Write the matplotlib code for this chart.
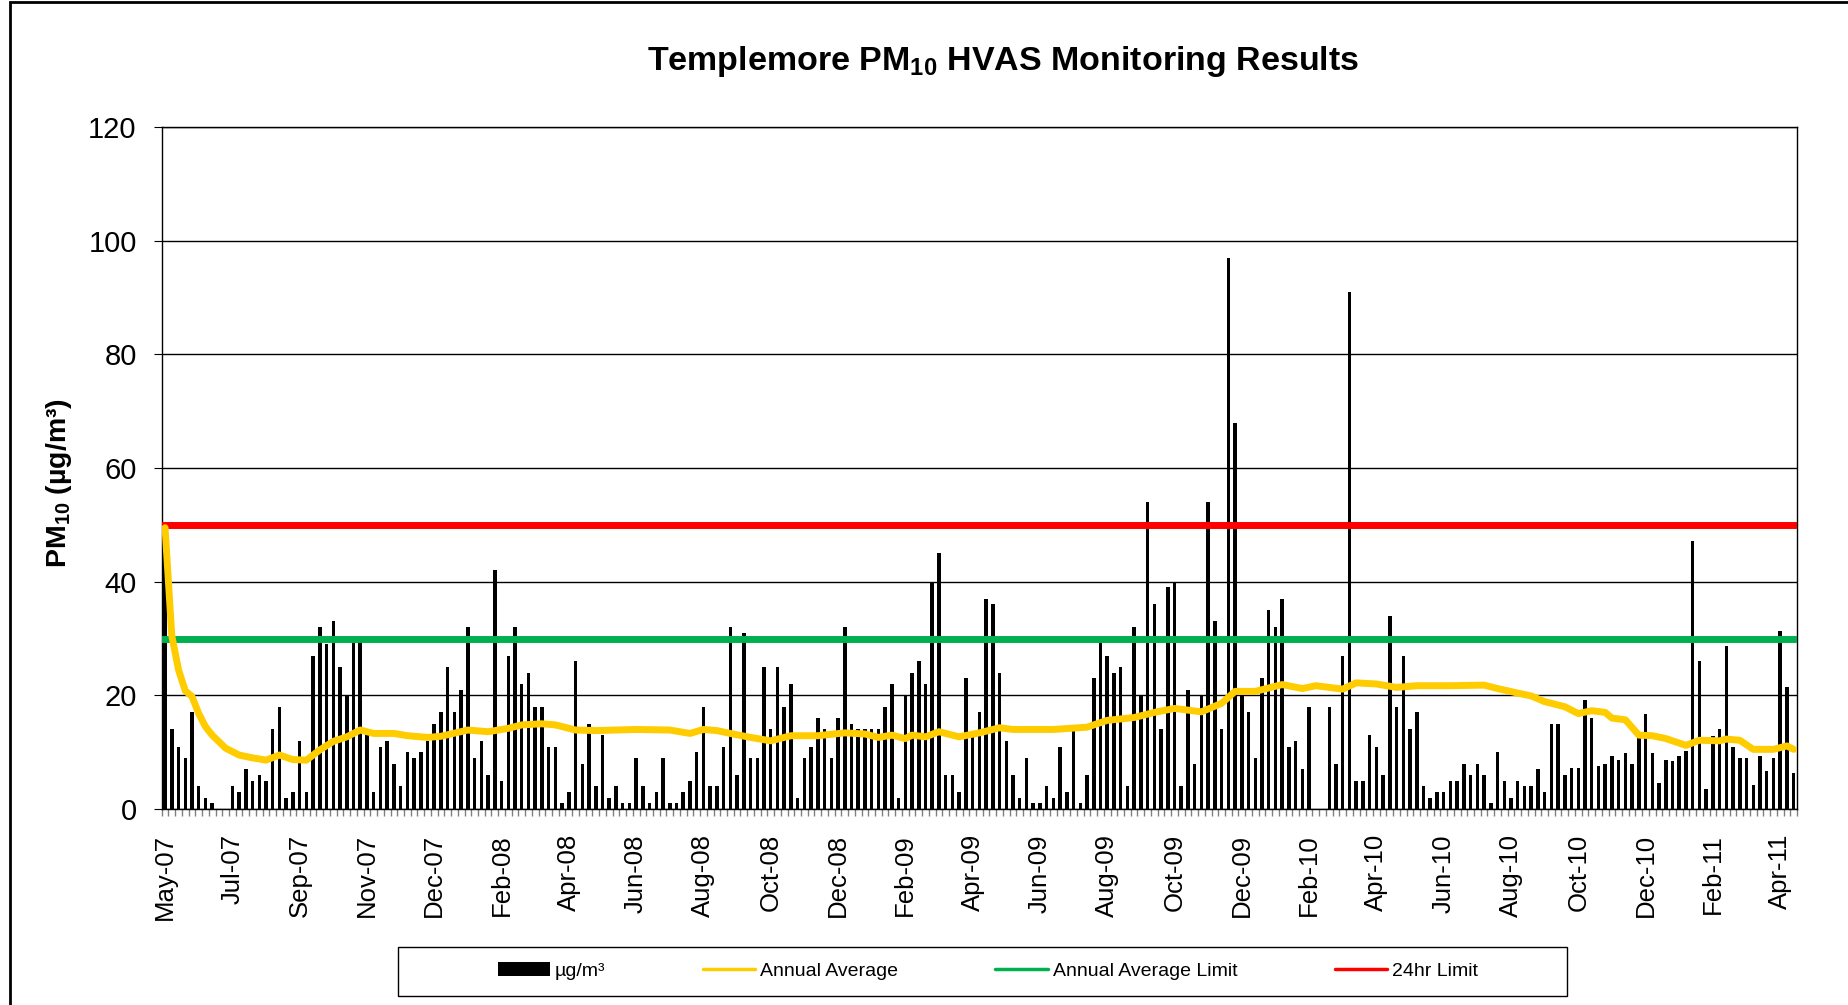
import matplotlib
matplotlib.use('Agg')
import matplotlib.pyplot as plt
from matplotlib.patches import Rectangle
import numpy as np

plt.rcParams['font.family'] = ['Liberation Sans', 'DejaVu Sans']
plt.rcParams['mathtext.fontset'] = 'custom'
plt.rcParams['mathtext.rm'] = 'Liberation Sans'
plt.rcParams['mathtext.bf'] = 'Liberation Sans:bold'
plt.rcParams['mathtext.it'] = 'Liberation Sans:italic'

# PM10 readings, one sample every 6 days, May-07 .. Apr-11
pm10 = [
    49, 14, 11, 9, 17, 4, 2, 1, 0, 0,
    4, 3, 7, 5, 6, 5, 14, 18, 2, 3,
    12, 3, 27, 32, 29, 33, 25, 20, 30, 30,
    14, 3, 11, 12, 8, 4, 10, 9, 10, 12,
    15, 17, 25, 17, 21, 32, 9, 12, 6, 42,
    5, 27, 32, 22, 24, 18, 18, 11, 11, 1,
    3, 26, 8, 15, 4, 13, 2, 4, 1, 1,
    9, 4, 1, 3, 9, 1, 1, 3, 5, 10,
    18, 4, 4, 11, 32, 6, 31, 9, 9, 25,
    14, 25, 18, 22, 2, 9, 11, 16, 14, 9,
    16, 32, 15, 14, 14, 14, 14, 18, 22, 2,
    20, 24, 26, 22, 40, 45, 6, 6, 3, 23,
    13, 17, 37, 36, 24, 12, 6, 2, 9, 1,
    1, 4, 2, 11, 3, 14, 1, 6, 23, 30,
    27, 24, 25, 4, 32, 20, 54, 36, 14, 39,
    40, 4, 21, 8, 20, 54, 33, 14, 97, 68,
    20, 17, 9, 23, 35, 32, 37, 11, 12, 7,
    18, 0, 0, 18, 8, 27, 91, 5, 5, 13,
    11, 6, 34, 18, 27, 14, 17, 4, 2, 3,
    3, 5, 5, 8, 6, 8, 6, 1, 10, 5,
    2, 5, 4, 4, 7, 3, 15, 15, 6, 7.2,
    7.2, 19.2, 16.1, 7.6, 7.9, 9.3, 8.7, 9.9, 7.9, 12.6,
    16.7, 9.9, 4.5, 8.7, 8.5, 9.3, 10.2, 47.2, 26.1, 3.6,
    12.9, 14.0, 28.6, 10.9, 8.9, 9.0, 4.3, 9.3, 6.7, 9.0,
    31.4, 21.5, 6.3,
]

avg_idx = [0, 1, 2, 3, 4, 5, 6, 7, 9, 11,
           13, 15, 17, 19, 21, 23, 25, 27, 29, 31,
           34, 36, 39, 41, 45, 48, 51, 53, 56, 58,
           61, 64, 70, 75, 78, 80, 82, 84, 87, 90,
           93, 97, 101, 104, 106, 108, 110, 111, 113, 115,
           118, 121, 124, 126, 132, 137, 140, 144, 147, 150,
           154, 157, 159, 162, 166, 169, 171, 175, 177, 180,
           183, 186, 191, 196, 198, 201, 203, 205, 208, 210,
           212, 214, 215, 217, 219, 221, 223, 226, 228, 231,
           232, 234, 236, 239, 241, 242]
avg_vals = [49.5, 30.5, 24.5, 20.8, 19.8, 16.8, 14.5, 13.0, 10.7, 9.5,
            9.0, 8.6, 9.5, 8.7, 8.6, 10.4, 11.9, 12.7, 13.9, 13.3,
            13.3, 12.9, 12.6, 12.8, 13.9, 13.6, 14.2, 14.8, 15.0, 14.8,
            13.9, 13.8, 14.0, 13.9, 13.3, 14.0, 13.8, 13.3, 12.6, 12.0,
            12.9, 12.9, 13.4, 13.2, 12.6, 13.0, 12.4, 13.0, 12.7, 13.6,
            12.7, 13.4, 14.3, 14.0, 14.0, 14.4, 15.6, 16.1, 17.0, 17.7,
            17.1, 18.6, 20.7, 20.7, 21.9, 21.2, 21.7, 21.1, 22.2, 22.0,
            21.4, 21.7, 21.7, 21.8, 21.2, 20.4, 19.9, 18.9, 18.0, 16.8,
            17.3, 17.0, 16.0, 15.7, 13.0, 12.9, 12.4, 11.2, 12.1, 12.0,
            12.3, 12.1, 10.5, 10.5, 11.1, 10.5]

annual_limit = 30
day_limit = 50

tick_labels = ['May-07', 'Jul-07', 'Sep-07', 'Nov-07', 'Dec-07', 'Feb-08',
               'Apr-08', 'Jun-08', 'Aug-08', 'Oct-08', 'Dec-08', 'Feb-09',
               'Apr-09', 'Jun-09', 'Aug-09', 'Oct-09', 'Dec-09', 'Feb-10',
               'Apr-10', 'Jun-10', 'Aug-10', 'Oct-10', 'Dec-10', 'Feb-11',
               'Apr-11']

fig, ax = plt.subplots(figsize=(18.48, 10.05), dpi=100)
fig.subplots_adjust(left=0.0875, right=0.9724, bottom=0.195, top=0.8736)

n = len(pm10)
x = np.arange(n)

bars = ax.bar(x, pm10, width=0.52, color='black', label='µg/m³', zorder=2)
avgLine, = ax.plot(avg_idx, avg_vals, color='#FFCC00', lw=5, zorder=5,
                   solid_capstyle='round', solid_joinstyle='round',
                   label='Annual Average')
greenLine = ax.axhline(annual_limit, color='#00B050', lw=5, zorder=4,
                       solid_capstyle='round', label='Annual Average Limit')
redLine = ax.axhline(day_limit, color='#FF0000', lw=5, zorder=4,
                     solid_capstyle='round', label='24hr Limit')

ax.set_xlim(-0.5, n - 0.5)
ax.set_ylim(0, 120)
ax.set_yticks(range(0, 121, 20))
ax.yaxis.grid(True, color='black', lw=1)
ax.set_axisbelow(True)
for side in ax.spines.values():
    side.set_linewidth(1)
    side.set_color('black')

ax.set_xticks(range(0, n, 10))
ax.set_xticklabels(tick_labels, rotation=90, fontsize=18.5)
ax.set_xticks(np.arange(-0.5, n, 1), minor=True)
ax.tick_params(axis='x', which='major', length=0, pad=18)
ax.tick_params(axis='x', which='minor', length=5, color='#808080', width=1)
ax.tick_params(axis='y', which='major', labelsize=21, length=6, pad=12)

fig.text(0.543, 0.939, 'Templemore PM$_{\\mathbf{10}}$ HVAS Monitoring Results',
         ha='center', va='center', fontsize=24.5, fontweight='bold')
fig.text(0.032, 0.519, 'PM$_{\\mathbf{10}}$ (µg/m³)', rotation=90,
         ha='center', va='center', fontsize=20.5, fontweight='bold')

# legend with its own box
fig.legend(handles=[bars, avgLine, greenLine, redLine], loc='center',
           bbox_to_anchor=(0.5345, 0.034), ncol=4, frameon=False, fontsize=14,
           columnspacing=5.0, handlelength=2.7, handletextpad=0.25)
for h in fig.legends[0].get_lines():
    h.set_linewidth(2.5)
fig.patches.append(Rectangle((398 / 1848, 1 - 996 / 1005), (1567 - 398) / 1848,
                             49 / 1005, transform=fig.transFigure, fill=False,
                             ec='black', lw=1))

# outer chart border
fig.patches.append(Rectangle((9.5 / 1848, -0.05), 1.0, 1.05 - 2.5 / 1005,
                             transform=fig.transFigure, fill=False,
                             ec='black', lw=2))

fig.savefig('out.png', dpi=100)
